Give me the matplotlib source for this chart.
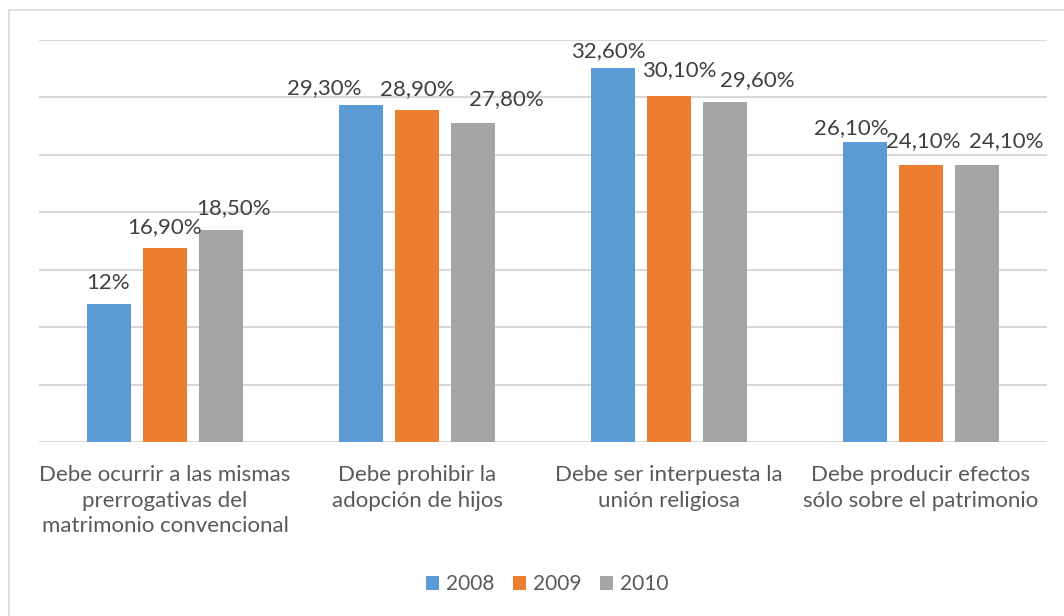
import numpy as np
import matplotlib
matplotlib.use("Agg")
import matplotlib.pyplot as plt
from matplotlib.patches import Rectangle

plt.rcParams['font.family'] = ['Lato', 'DejaVu Sans']

categories = ["Debe ocurrir a las mismas\nprerrogativas del\nmatrimonio convencional",
              "Debe prohibir la\nadopción de hijos",
              "Debe ser interpuesta la\nunión religiosa",
              "Debe producir efectos\nsólo sobre el patrimonio"]
years = ["2008", "2009", "2010"]
v2008 = [12.0, 29.3, 32.6, 26.1]
v2009 = [16.9, 28.9, 30.1, 24.1]
v2010 = [18.5, 27.8, 29.6, 24.1]
lab2008 = ["12%", "29,30%", "32,60%", "26,10%"]
lab2009 = ["16,90%", "28,90%", "30,10%", "24,10%"]
lab2010 = ["18,50%", "27,80%", "29,60%", "24,10%"]
colors = ["#5b9bd5", "#ed7d31", "#a5a5a5"]

# label nudges in pixels (dx, dy above bar top), Excel moved them around to avoid overlap
nudge = [
    [(-1, 21), (-37, 17), (-5, 16), (-14, 14)],
    [(0, 21), (0, 21), (10, 26), (2, 24)],
    [(13, 21), (33, 24), (32, 22), (29, 24)],
]

W, H = 1064, 616
fig = plt.figure(figsize=(W / 100, H / 100), dpi=100)
fig.patches.append(Rectangle((9 / W, -0.01), 1.1, 1 - 10 / H + 0.01, transform=fig.transFigure,
                             fill=False, edgecolor="#d9d9d9", linewidth=1.2))

ax = fig.add_axes([39 / W, 1 - 442 / H, (1047 - 39) / W, (442 - 40) / H])
x = np.arange(len(categories))
width = 44 / 252
step = 56 / 252
series = [v2008, v2009, v2010]
labels = [lab2008, lab2009, lab2010]
for i, (vals, labs) in enumerate(zip(series, labels)):
    bars = ax.bar(x + (i - 1) * step, vals, width, color=colors[i], label=years[i], zorder=2)
    for j, (b, t) in enumerate(zip(bars, labs)):
        dx, dy = nudge[i][j]
        ax.annotate(t, (b.get_x() + b.get_width() / 2, b.get_height()), xytext=(dx, dy),
                    textcoords="offset pixels", ha="center", va="center",
                    fontsize=16, color="#404040")

ax.set_xlim(-0.5, 3.5)
ax.set_ylim(0, 35)
ax.set_yticks(np.arange(0, 36, 5))
ax.yaxis.grid(True, color="#d9d9d9", linewidth=1.5, zorder=0)
ax.set_axisbelow(True)
ax.tick_params(axis="y", left=False, labelleft=False)
ax.tick_params(axis="x", bottom=False, pad=13)
ax.set_xticks(x)
ax.set_xticklabels(categories, fontsize=16, color="#595959", linespacing=1.35, va="top")
for s in ax.spines.values():
    s.set_visible(False)

fig.legend(loc="center", bbox_to_anchor=(547 / W, 1 - 584 / H), ncol=3, frameon=False,
           fontsize=15, labelcolor="#595959", handlelength=0.65, handleheight=0.65,
           handletextpad=0.3, columnspacing=0.9)

fig.savefig("out.png", dpi=100)
